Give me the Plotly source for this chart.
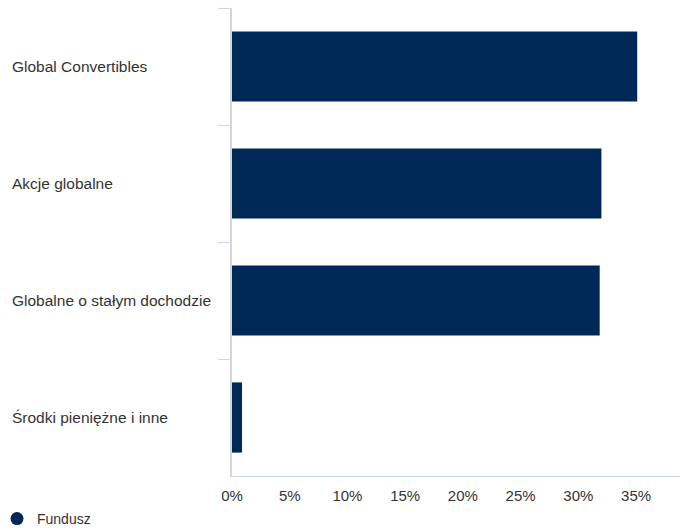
import plotly.graph_objects as go

categories = ["Global Convertibles", "Akcje globalne", "Globalne o stałym dochodzie", "Środki pieniężne i inne"]
values = [35.1, 32.0, 31.85, 0.87]
series_name = "Fundusz"
x_ticks = [0, 5, 10, 15, 20, 25, 30, 35]

BAR = "#002856"
FONT = "Liberation Sans, Arial, sans-serif"
# page body adds an 8px offset; figure is sized to compensate
W, H = 680, 524
ML, MR, MT, MB = 224, 0, 0, 56
pw = W - ML - MR
ph = H - MT - MB

fig = go.Figure()
fig.add_trace(go.Bar(
    y=categories, x=values, orientation="h",
    marker=dict(color=BAR, line=dict(width=0)),
    name=series_name, showlegend=False,
))
fig.add_trace(go.Scatter(
    x=[None], y=[None], mode="markers", name=series_name,
    marker=dict(symbol="circle", size=13, color=BAR),
))

for c in categories:
    fig.add_annotation(
        xref="paper", yref="y", x=(2 - ML) / pw, y=c, text=c,
        showarrow=False, xanchor="left", yanchor="middle",
        font=dict(family=FONT, size=15.5, color="#333333"),
    )

fig.update_layout(
    width=W, height=H,
    margin=dict(l=ML, r=MR, t=MT, b=MB, autoexpand=False),
    paper_bgcolor="white", plot_bgcolor="white",
    bargap=0.4,
    font=dict(family=FONT, size=15, color="#333333"),
    xaxis=dict(
        range=[0, 39.5], tickvals=x_ticks, ticktext=[f"{v}%" for v in x_ticks],
        showgrid=False, zeroline=False, showline=True, linecolor="#ccd6eb", linewidth=1,
        ticks="", ticklabelstandoff=6, fixedrange=True,
        tickfont=dict(family=FONT, size=15, color="#333333"),
    ),
    yaxis=dict(
        autorange="reversed", showticklabels=False, showgrid=False, zeroline=False,
        showline=True, linecolor="#d6d6d6", linewidth=2,
        ticks="outside", tickson="boundaries", ticklen=12, tickcolor="#ccd6eb", tickwidth=1,
    ),
    legend=dict(
        orientation="h", x=(-11 - ML) / pw, xanchor="left", y=-(511 - (H - MB)) / ph,
        yanchor="middle", font=dict(family=FONT, size=14, color="#333333"), bgcolor="rgba(0,0,0,0)",
    ),
    showlegend=True,
)

fig.write_html("out.html")
